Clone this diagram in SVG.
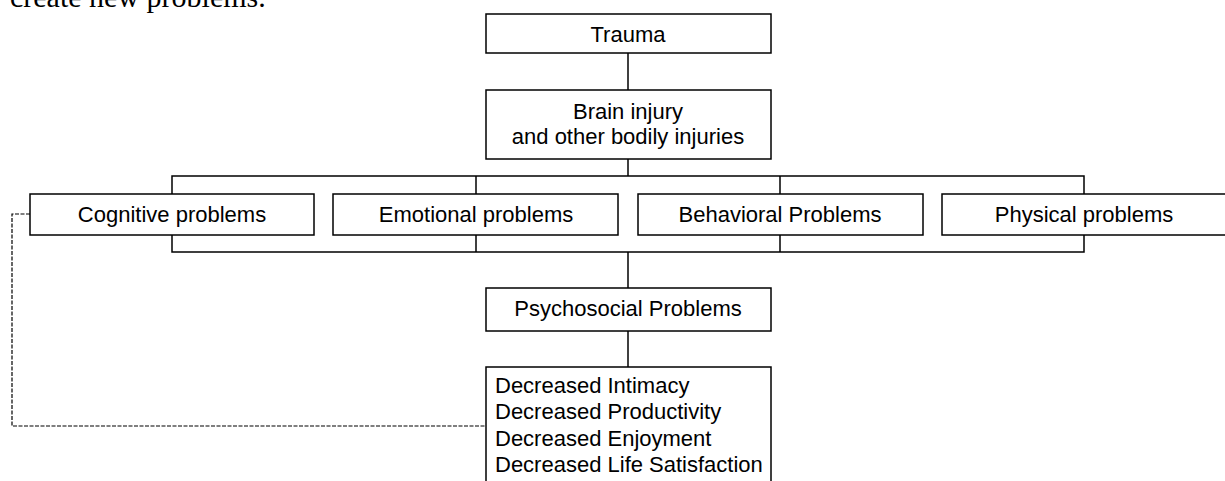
<svg xmlns="http://www.w3.org/2000/svg" width="1225" height="481" viewBox="0 0 1225 481">
<style>
.box{fill:#fff;stroke:#000;stroke-width:1.5}
.ln{fill:none;stroke:#000;stroke-width:1.5}
.dash{fill:none;stroke:#000;stroke-width:1.2;stroke-dasharray:4,1.5}
.t{font-family:"Liberation Sans",Arial,sans-serif;font-size:22px;fill:#000}
.c{text-anchor:middle}
.top{font-family:"Liberation Serif","Times New Roman",serif;font-size:30px;fill:#000}
</style>
<rect width="1225" height="481" fill="#fff"/>
<text class="top" x="10" y="7">create new problems.</text>
<g id="connectors">
<line class="ln" x1="628" y1="53" x2="628" y2="90"/>
<line class="ln" x1="628" y1="159" x2="628" y2="176"/>
<polyline class="ln" points="172,194 172,176 1084,176 1084,194"/>
<line class="ln" x1="476" y1="176" x2="476" y2="194"/>
<line class="ln" x1="780" y1="176" x2="780" y2="194"/>
<polyline class="ln" points="172,235 172,252 1084,252 1084,235"/>
<line class="ln" x1="476" y1="235" x2="476" y2="252"/>
<line class="ln" x1="780" y1="235" x2="780" y2="252"/>
<line class="ln" x1="628" y1="252" x2="628" y2="288"/>
<line class="ln" x1="628" y1="331" x2="628" y2="367"/>
<polyline class="dash" points="30,214 12,214 12,426 486,426"/>
</g>
<g id="trauma">
<rect class="box" x="486" y="14" width="285" height="39"/>
<text class="t c" x="628" y="42">Trauma</text>
</g>
<g id="brain">
<rect class="box" x="486" y="90" width="285" height="69"/>
<text class="t c" x="628" y="119">Brain injury</text>
<text class="t c" x="628" y="144">and other bodily injuries</text>
</g>
<g id="cognitive">
<rect class="box" x="30" y="194" width="284" height="41"/>
<text class="t c" x="172" y="222">Cognitive problems</text>
</g>
<g id="emotional">
<rect class="box" x="333" y="194" width="285" height="41"/>
<text class="t c" x="476" y="222">Emotional problems</text>
</g>
<g id="behavioral">
<rect class="box" x="638" y="194" width="285" height="41"/>
<text class="t c" x="780" y="222">Behavioral Problems</text>
</g>
<g id="physical">
<rect class="box" x="942" y="194" width="285" height="41"/>
<text class="t c" x="1084" y="222">Physical problems</text>
</g>
<g id="psychosocial">
<rect class="box" x="486" y="288" width="285" height="43"/>
<text class="t c" x="628" y="316">Psychosocial Problems</text>
</g>
<g id="decreased">
<rect class="box" x="486" y="367" width="285" height="130"/>
<text class="t" x="495" y="393">Decreased Intimacy</text>
<text class="t" x="495" y="419">Decreased Productivity</text>
<text class="t" x="495" y="446">Decreased Enjoyment</text>
<text class="t" x="495" y="472">Decreased Life Satisfaction</text>
</g>
</svg>
